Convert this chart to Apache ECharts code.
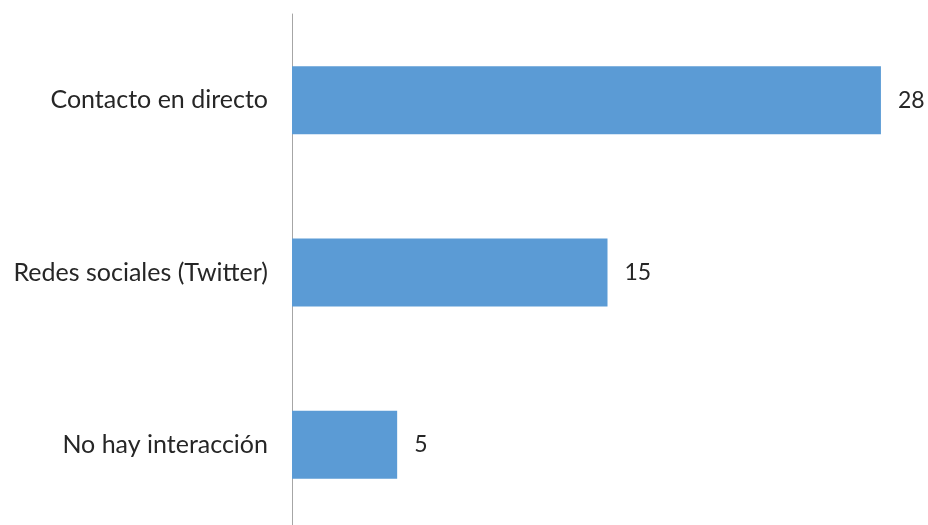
<!DOCTYPE html>
<html>
<head>
<meta charset="utf-8">
<script src="https://cdn.jsdelivr.net/npm/echarts@6/dist/echarts.min.js"></script>
<style>
  html, body { margin: 0; padding: 0; background: #ffffff; overflow: hidden; }
  #chart { width: 928px; height: 531px; }
</style>
</head>
<body>
<div id="chart"></div>
<script>
// Interaction channels and number of responses
const categories = ['Contacto en directo', 'Redes sociales (Twitter)', 'No hay interacción'];
const values = [28, 15, 5];

const chart = echarts.init(document.getElementById('chart'));
chart.setOption({
  animation: false,
  backgroundColor: '#ffffff',
  grid: { left: 292, right: 5, top: 14, bottom: 0, containLabel: false },
  xAxis: {
    type: 'value',
    min: 0,
    max: 30,
    show: false
  },
  yAxis: {
    type: 'category',
    data: categories,
    inverse: true,
    axisLine: { show: true, lineStyle: { color: '#a6a6a6', width: 1 } },
    axisTick: { show: false },
    axisLabel: {
      margin: 24,
      color: '#262626',
      fontFamily: 'Lato',
      fontSize: 25
    }
  },
  series: [{
    type: 'bar',
    data: values,
    barWidth: 68,
    itemStyle: { color: '#5b9bd5' },
    label: {
      show: true,
      position: 'right',
      distance: 17,
      color: '#262626',
      fontFamily: 'Lato',
      fontSize: 23
    }
  }]
});
</script>
</body>
</html>
